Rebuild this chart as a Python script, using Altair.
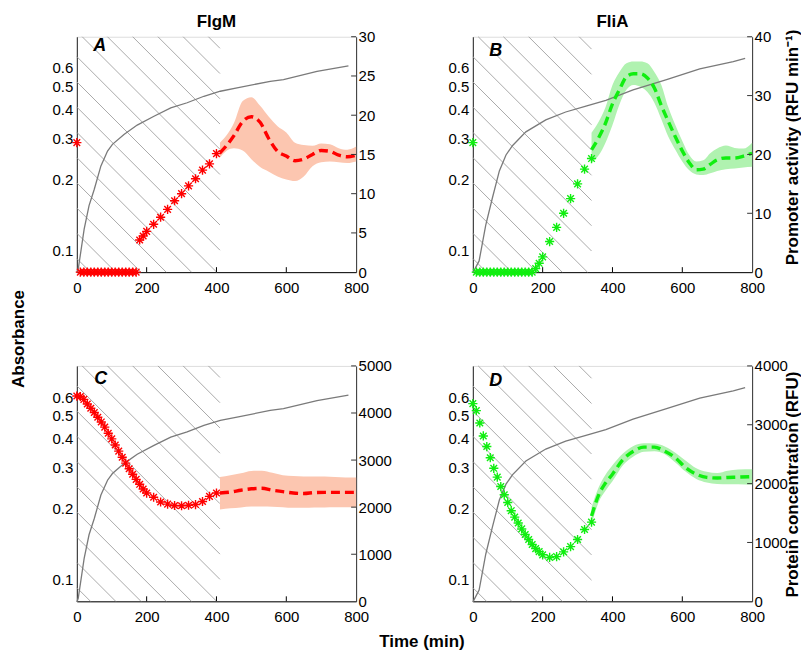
import altair as alt
import pandas as pd

# ---------------- data ----------------
# growth curves (absorbance, left log axis)
GROWTH_T_AC = [0, 4, 21, 35, 50, 69, 88, 102, 135, 173, 221, 269, 316, 364, 411, 459, 554, 592, 688, 778]
GROWTH_V_AC = [0.080, 0.083, 0.123, 0.155, 0.182, 0.229, 0.265, 0.283, 0.312, 0.342, 0.373, 0.405,
               0.426, 0.454, 0.477, 0.493, 0.526, 0.535, 0.580, 0.612]
GROWTH_T_BD = [0, 18, 37, 56, 76, 95, 114, 152, 209, 266, 324, 381, 459, 555, 650, 746, 780]
GROWTH_V_BD = [0.080, 0.090, 0.128, 0.167, 0.218, 0.255, 0.280, 0.320, 0.360, 0.389, 0.412, 0.436,
               0.483, 0.535, 0.594, 0.638, 0.659]

# Panel A (FlgM promoter activity)
A_T = [0, 10, 20, 30, 40, 50, 60, 70, 80, 90, 100, 110, 120, 130, 140, 150, 160, 170, 180, 190, 200,
       220, 240, 260, 280, 300, 320, 340, 360, 380, 400]
A_V = [16.5, 0, 0, 0, 0, 0, 0, 0, 0, 0, 0, 0, 0, 0, 0, 0, 0, 0, 4.1, 4.6, 5.2,
       6.1, 7.0, 8.0, 9.1, 10.0, 11.0, 11.9, 13.0, 13.8, 15.1]
AF_T = [410, 430, 450, 475, 500, 525, 550, 575, 600, 625, 650, 675, 700, 725, 750, 775, 800]
AF_V = [15.2, 16.2, 17.4, 19.2, 19.8, 19.1, 17.0, 15.4, 14.8, 14.2, 14.4, 15.0, 15.5, 15.4, 14.9, 14.7, 14.9]
AF_HI = [16.5, 17.5, 19.0, 21.8, 22.3, 21.2, 19.8, 18.6, 17.8, 16.5, 16.2, 16.1, 16.4, 16.3, 15.8, 15.6, 16.0]
AF_LO = [14.6, 15.5, 15.8, 15.5, 14.4, 13.4, 12.8, 12.2, 11.8, 11.6, 12.2, 13.5, 14.0, 14.1, 14.0, 13.9, 14.1]

# Panel B (FliA promoter activity)
B_T = [0, 10, 20, 30, 40, 50, 60, 70, 80, 90, 100, 110, 120, 130, 140, 150, 160, 170, 180, 190, 200,
       220, 240, 260, 280, 300, 320, 340]
B_V = [22.0, 0, 0, 0, 0, 0, 0, 0, 0, 0, 0, 0, 0, 0, 0, 0, 0, 0, 0.6, 1.5, 2.6,
       5.2, 7.6, 10.0, 12.5, 15.0, 17.5, 19.3]
BF_T = [340, 360, 380, 400, 420, 440, 460, 480, 500, 520, 540, 560, 580, 600, 620, 640, 660, 680, 700,
        725, 750, 775, 800]
BF_V = [20.8, 22.8, 25.3, 28.6, 31.0, 33.2, 33.7, 33.7, 33.0, 31.3, 28.3, 25.6, 23.0, 20.6, 18.6, 17.4,
        17.5, 18.3, 19.1, 19.4, 19.4, 19.7, 20.2]
BF_HI = [23.7, 25.5, 28.0, 31.8, 34.0, 35.5, 35.8, 35.8, 35.5, 34.0, 31.8, 28.0, 25.0, 22.3, 19.9, 18.8,
         19.0, 20.2, 21.0, 21.5, 21.1, 21.0, 22.0]
BF_LO = [18.6, 19.8, 22.0, 25.0, 28.5, 31.0, 31.8, 31.5, 30.6, 28.8, 26.0, 23.0, 20.8, 18.8, 17.3, 16.6,
         16.5, 16.8, 17.2, 17.5, 17.6, 17.8, 17.9]

# Panel C (FlgM protein concentration)
C_T = [0, 10, 20, 30, 40, 50, 60, 70, 80, 90, 100, 110, 120, 130, 140, 150, 160, 170, 180, 190, 200,
       220, 240, 260, 280, 300, 320, 340, 360, 380, 400]
C_V = [4360, 4350, 4290, 4190, 4100, 4010, 3910, 3810, 3700, 3570, 3450, 3320, 3190, 3060, 2935, 2815,
       2700, 2590, 2485, 2385, 2300, 2210, 2110, 2065, 2035, 2030, 2040, 2055, 2120, 2230, 2300]
CF_T = [410, 440, 470, 500, 530, 560, 590, 620, 650, 680, 710, 740, 770, 800]
CF_V = [2300, 2320, 2360, 2390, 2400, 2360, 2330, 2300, 2290, 2310, 2315, 2315, 2315, 2315]
CF_HI = [2640, 2680, 2720, 2770, 2775, 2730, 2680, 2660, 2650, 2650, 2650, 2640, 2630, 2630]
CF_LO = [1950, 1975, 1995, 2015, 2015, 2010, 2000, 1985, 1985, 1990, 1995, 2000, 2000, 2000]

# Panel D (FliA protein concentration)
D_T = [0, 10, 20, 30, 40, 50, 60, 70, 80, 90, 100, 110, 120, 130, 140, 150, 160, 170, 180, 190, 200,
       220, 240, 260, 280, 300, 320, 340]
D_V = [3360, 3240, 3030, 2810, 2630, 2440, 2260, 2110, 1950, 1810, 1680, 1540, 1430, 1330, 1230, 1135,
       1050, 965, 895, 845, 790, 745, 760, 840, 930, 1050, 1220, 1345]
DF_T = [340, 360, 380, 400, 430, 460, 490, 520, 550, 580, 610, 640, 670, 700, 730, 760, 800]
DF_V = [1450, 1800, 2010, 2160, 2410, 2550, 2620, 2620, 2550, 2440, 2270, 2160, 2105, 2095, 2105, 2110, 2120]
DF_HI = [1600, 1930, 2150, 2310, 2510, 2640, 2685, 2680, 2630, 2525, 2390, 2260, 2200, 2180, 2220, 2240, 2245]
DF_LO = [1300, 1680, 1880, 2040, 2310, 2460, 2540, 2550, 2500, 2360, 2200, 2080, 2020, 1995, 1990, 1990, 1980]

X_TICKS = [0, 200, 400, 600, 800]
ABS_TICKS = [0.1, 0.2, 0.3, 0.4, 0.5, 0.6]

# ---------------- style ----------------
W, H = 280, 236
FONT = "Liberation Sans"
RED, RED_BAND = "#ff0000", "#fcc6b0"
GREEN, GREEN_BAND = "#10ee10", "#b0f2b0"
GRAY = "#7a7a7a"
HATCH = "#a0a0a0"
STAR = "M-1,0L1,0M0,-1L0,1M-0.72,-0.72L0.72,0.72M-0.72,0.72L0.72,-0.72"

XS = alt.Scale(domain=[0, 800], nice=False, zero=False)
XAX = alt.Axis(values=X_TICKS, title=None, ticks=False, labelPadding=8, labelFontSize=15,
               labelFont=FONT, labelColor="#000", domainColor="#000", labelFlush=False, grid=False)
LOGS = alt.Scale(type="log", domain=[0.0806, 0.815], nice=False)
LEFTAX = alt.Axis(orient="left", values=ABS_TICKS, format=".1f", title=None, ticks=False,
                  labelPadding=4, labelFontSize=15, labelFont=FONT, labelColor="#000",
                  domainColor="#222", grid=False)


def hatch_df(t_end, ymax, phase=30.7, step=25.3):
    xe = t_end / 800 * W
    rows = []
    c = phase - step * 20
    while c < xe:
        x1, x2 = max(0.0, c), min(xe, c + H)
        if x1 < x2:
            rows.append(dict(t1=x1 / W * 800, t2=x2 / W * 800,
                             v1=(1 - (x1 - c) / H) * ymax, v2=(1 - (x2 - c) / H) * ymax))
        c += step
    return pd.DataFrame(rows)


def txt(s, x, y, size, angle=0, style="normal", baseline="alphabetic"):
    return alt.Chart(pd.DataFrame({"s": [s]})).mark_text(
        font=FONT, fontSize=size, fontWeight="bold", fontStyle=style, angle=angle,
        align="center", baseline=baseline, color="#000"
    ).encode(x=alt.value(x), y=alt.value(y), text="s:N")


def panel(gt, gv, st, sv, ft, fv, flo, fhi, ymax, ystep, hatch_end, color, band_color, texts):
    ys = alt.Scale(domain=[0, ymax], nice=False, zero=False)
    rticks = list(range(0, ymax + 1, ystep))
    rax = alt.Axis(orient="right", values=rticks, format="d", title=None,
                   ticks=False, labelPadding=2, labelFontSize=15, labelFont=FONT, labelColor="#000",
                   domainColor="#333", grid=False)
    hatch = alt.Chart(hatch_df(hatch_end, ymax)).mark_rule(color=HATCH, strokeWidth=0.9).encode(
        x=alt.X("t1:Q", scale=XS, axis=XAX), x2="t2:Q",
        y=alt.Y("v1:Q", scale=ys, axis=None), y2="v2:Q")
    fit = pd.DataFrame({"t": ft, "v": fv, "lo": flo, "hi": fhi})
    band = alt.Chart(fit).mark_area(color=band_color, opacity=1, interpolate="monotone").encode(
        x=alt.X("t:Q", scale=XS, axis=XAX),
        y=alt.Y("lo:Q", scale=ys, axis=None), y2="hi:Q")
    gray = alt.Chart(pd.DataFrame({"t": gt, "a": gv})).mark_line(color=GRAY, strokeWidth=1.3).encode(
        x=alt.X("t:Q", scale=XS, axis=XAX),
        y=alt.Y("a:Q", scale=LOGS, axis=LEFTAX))
    dash = alt.Chart(fit).mark_line(color=color, strokeWidth=3.4, strokeDash=[9, 5],
                                    interpolate="monotone").encode(
        x=alt.X("t:Q", scale=XS, axis=XAX),
        y=alt.Y("v:Q", scale=ys, axis=None))
    stars = alt.Chart(pd.DataFrame({"t": st, "v": sv})).mark_point(
        shape=STAR, size=85, color=color, strokeWidth=1.4, filled=False, opacity=1).encode(
        x=alt.X("t:Q", scale=XS, axis=XAX),
        y=alt.Y("v:Q", scale=ys, axis=rax))
    # inward ticks (bottom and right axes), placed through the scales
    bticks = alt.Chart(pd.DataFrame({"t": X_TICKS[1:-1]})).mark_rule(color="#000", strokeWidth=1).encode(
        x=alt.X("t:Q", scale=XS, axis=XAX), y=alt.value(H), y2=alt.value(H - 5))
    rtk = alt.Chart(pd.DataFrame({"v": rticks[1:]})).mark_rule(color="#333", strokeWidth=1).encode(
        y=alt.Y("v:Q", scale=ys, axis=None), x=alt.value(W), x2=alt.value(W - 5))
    return alt.layer(hatch, band, gray, dash, stars, bticks, rtk, *texts).resolve_scale(
        y="independent").properties(width=W, height=H)


pA = panel(GROWTH_T_AC, GROWTH_V_AC, A_T, A_V, AF_T, AF_V, AF_LO, AF_HI, 30, 5, 410, RED, RED_BAND,
           [txt("A", 23, 14, 18, style="italic"), txt("FlgM", 140, -10, 17),
            txt("Absorbance", -58, 303, 17, angle=270, baseline="middle")])
pB = panel(GROWTH_T_BD, GROWTH_V_BD, B_T, B_V, BF_T, BF_V, BF_LO, BF_HI, 40, 10, 340, GREEN, GREEN_BAND,
           [txt("B", 23, 19, 18, style="italic"), txt("FliA", 140, -10, 17),
            txt("Promoter activity (RFU min\u207b\u00b9)", 320.5, 111, 17, angle=270, baseline="middle")])
pC = panel(GROWTH_T_AC, GROWTH_V_AC, C_T, C_V, CF_T, CF_V, CF_LO, CF_HI, 5000, 1000, 410, RED, RED_BAND,
           [txt("C", 24, 18, 18, style="italic"), txt("Time (min)", 346, 282, 17)])
pD = panel(GROWTH_T_BD, GROWTH_V_BD, D_T, D_V, DF_T, DF_V, DF_LO, DF_HI, 4000, 1000, 340, GREEN, GREEN_BAND,
           [txt("D", 23, 20, 18, style="italic"),
            txt("Protein concentration (RFU)", 320.5, 119, 17, angle=270, baseline="middle")])

chart = alt.concat(pA, pB, pC, pD, columns=2, spacing=alt.RowColnumber(column=117, row=94),
                   bounds="flush").properties(
    padding={"left": 1, "top": 3, "right": 0, "bottom": 0}
).configure_view(stroke=None).configure(background="white")

chart.save("out.html", embed_options={"renderer": "svg", "actions": False})
